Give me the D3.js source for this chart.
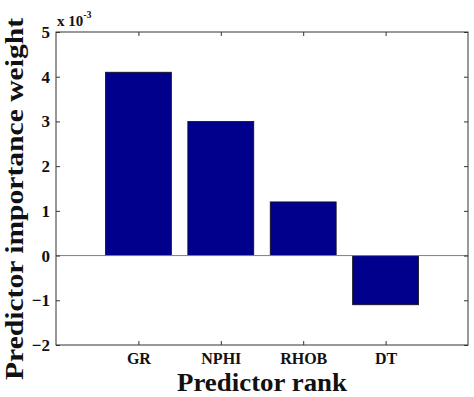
<!DOCTYPE html>
<html>
<head>
<meta charset="utf-8">
<script src="https://cdn.jsdelivr.net/npm/d3@7"></script>
<style>
  body { margin: 0; background: #fff; }
  text { font-family: "Liberation Serif", "Times New Roman", serif; font-weight: bold; }
</style>
</head>
<body>
<svg id="chart" width="474" height="397"></svg>
<script>
// data (values are x 10^-3)
const predictors = ["GR", "NPHI", "RHOB", "DT"];
const weights = [4.1, 3.0, 1.2, -1.1];
const yTicks = [-2, -1, 0, 1, 2, 3, 4, 5];

const svg = d3.select("#chart");
const margin = { left: 56, right: 6, top: 32, bottom: 52 };
const width = 474 - margin.left - margin.right;
const height = 397 - margin.top - margin.bottom;

const g = svg.append("g").attr("transform", `translate(${margin.left},${margin.top})`);

const x = d3.scaleLinear().domain([0, 5]).range([0, width]);
const y = d3.scaleLinear().domain([-2, 5]).range([height, 0]);
const barW = x(0.8) - x(0);

// bars
g.selectAll(".bar")
  .data(predictors)
  .enter()
  .append("rect")
  .attr("class", "bar")
  .attr("x", (d, i) => x(i + 1) - barW / 2)
  .attr("width", barW)
  .attr("y", (d, i) => y(Math.max(0, weights[i])))
  .attr("height", (d, i) => Math.abs(y(weights[i]) - y(0)))
  .attr("fill", "#00008c")
  .attr("stroke", "#111")
  .attr("stroke-width", 0.8);

// zero line
g.append("line")
  .attr("x1", 0).attr("x2", width)
  .attr("y1", y(0)).attr("y2", y(0))
  .attr("stroke", "#808080")
  .attr("stroke-width", 1);

// axes, ticks inside like matlab
const tickIdx = predictors.map((d, i) => i + 1);
const styleAxis = sel => {
  sel.select(".domain").remove();
  sel.selectAll(".tick line").attr("stroke", "#333");
  sel.selectAll(".tick text").style("font-size", "16px").attr("fill", "#111");
};

g.append("g")
  .attr("transform", `translate(0,${height})`)
  .call(d3.axisBottom(x).tickValues(tickIdx).tickSize(-4).tickPadding(8)
    .tickFormat(d => predictors[d - 1]))
  .call(styleAxis);

g.append("g")
  .call(d3.axisTop(x).tickValues(tickIdx).tickSize(-4).tickFormat(""))
  .call(styleAxis);

g.append("g")
  .call(d3.axisLeft(y).tickValues(yTicks).tickSize(-4).tickPadding(6)
    .tickFormat(d3.format("d")))
  .call(styleAxis)
  .selectAll(".tick text").style("font-size", "17px");

g.append("g")
  .attr("transform", `translate(${width},0)`)
  .call(d3.axisRight(y).tickValues(yTicks).tickSize(-4).tickFormat(""))
  .call(styleAxis);

// box
g.append("rect")
  .attr("width", width).attr("height", height)
  .attr("fill", "none").attr("stroke", "#333").attr("stroke-width", 1);

// exponent label
const expo = svg.append("text")
  .attr("x", margin.left + 1).attr("y", margin.top - 6)
  .style("font-size", "15px").attr("fill", "#111");
expo.append("tspan").text("x 10");
expo.append("tspan").attr("dy", -8).style("font-size", "10px").text("-3");

// axis titles
svg.append("text")
  .attr("x", 262).attr("y", 391)
  .attr("text-anchor", "middle")
  .style("font-size", "25px")
  .attr("textLength", 170)
  .attr("lengthAdjust", "spacingAndGlyphs")
  .attr("fill", "#111")
  .text("Predictor rank");

svg.append("text")
  .attr("transform", "translate(23,199) rotate(-90)")
  .attr("text-anchor", "middle")
  .style("font-size", "25px")
  .attr("textLength", 362)
  .attr("lengthAdjust", "spacingAndGlyphs")
  .attr("fill", "#111")
  .text("Predictor importance weight");
</script>
</body>
</html>
